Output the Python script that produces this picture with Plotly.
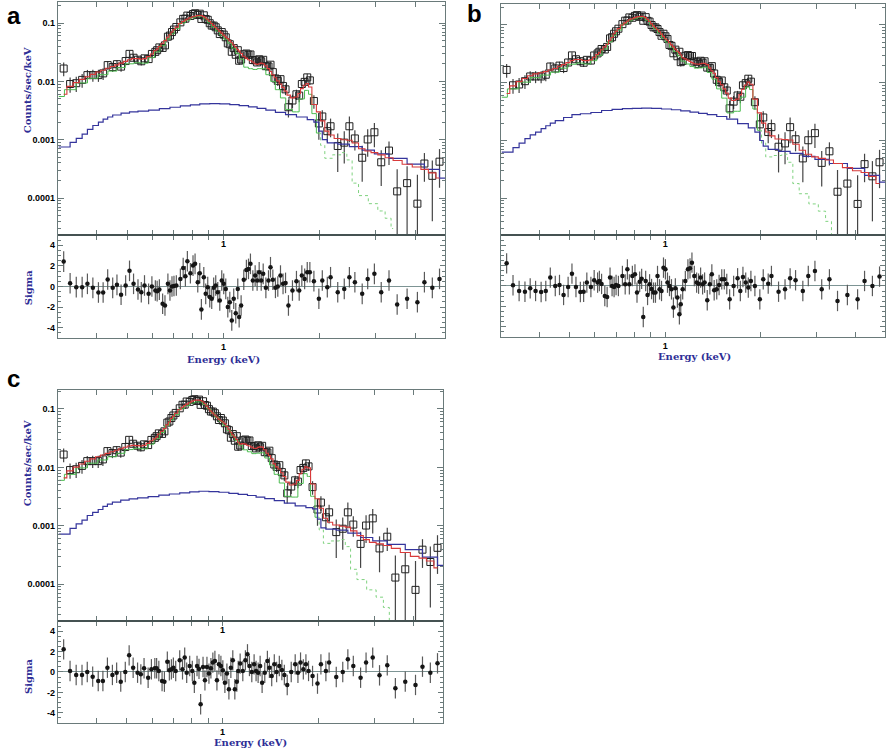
import plotly.graph_objects as go

# ---------------------------------------------------------------------------
# Spectral bins (keV) shared by all three fits
energy = [
    0.316, 0.331, 0.346, 0.361, 0.375, 0.390, 0.406, 0.420, 0.434, 0.450,
    0.464, 0.478, 0.494, 0.508, 0.523, 0.540, 0.553, 0.566, 0.583, 0.597,
    0.612, 0.620, 0.630, 0.645, 0.656, 0.670, 0.680, 0.690, 0.700, 0.712,
    0.733, 0.748, 0.760, 0.771, 0.788, 0.803, 0.815, 0.831, 0.843, 0.853,
    0.868, 0.880, 0.893, 0.906, 0.919, 0.932, 0.946, 0.960, 0.974, 0.988,
    1.002, 1.017, 1.032, 1.047, 1.062, 1.077, 1.093, 1.109, 1.120, 1.136,
    1.158, 1.180, 1.198, 1.215, 1.236, 1.257, 1.275, 1.294, 1.313, 1.332,
    1.358, 1.384, 1.404, 1.428, 1.455, 1.480, 1.509, 1.537, 1.565, 1.598,
    1.645, 1.693, 1.727, 1.760, 1.796, 1.830, 1.865, 1.920, 1.990, 2.040,
    2.115, 2.165, 2.280, 2.390, 2.480, 2.580, 2.720, 2.830, 2.970, 3.120,
    3.300, 3.500, 3.760, 4.050, 4.260, 4.510, 4.750,
]

# Observed count rate (counts/sec/keV) and 1-sigma errors
counts = [
    0.0166, 0.0090, 0.0093, 0.0106, 0.0128, 0.0128, 0.0128, 0.0137, 0.0190, 0.0176,
    0.0197, 0.0179, 0.0223, 0.0296, 0.0254, 0.0235, 0.0221, 0.0248, 0.0241, 0.0295,
    0.0320, 0.0342, 0.0382, 0.0374, 0.0414, 0.0583, 0.0610, 0.0700, 0.0773, 0.0856,
    0.1027, 0.1179, 0.1188, 0.1342, 0.1322, 0.1426, 0.1471, 0.1371, 0.1446, 0.1176,
    0.1356, 0.1170, 0.1136, 0.0992, 0.0904, 0.0902, 0.0846, 0.0749, 0.0647, 0.0700,
    0.0633, 0.0569, 0.0448, 0.0433, 0.0322, 0.0372, 0.0286, 0.0342, 0.0226, 0.0237,
    0.0291, 0.0300, 0.0286, 0.0289, 0.0232, 0.0230, 0.0211, 0.0239, 0.0221, 0.0234,
    0.0182, 0.0180, 0.0193, 0.0144, 0.0112, 0.0102, 0.0109, 0.0083, 0.0073, 0.0036,
    0.0047, 0.0060, 0.0057, 0.0090, 0.0098, 0.0117, 0.0104, 0.0046, 0.0019, 0.0025,
    0.0014, 0.0017, 0.00078, 0.00089, 0.0017, 0.00105, 0.00049, 0.00101, 0.00134, 0.00041,
    0.00065, 0.00013, 0.00018, 0.00008, 0.00039, 0.00024, 0.00042,
]
count_err = [
    0.0044, 0.0026, 0.0027, 0.0028, 0.0029, 0.0030, 0.0030, 0.0031, 0.0032, 0.0032,
    0.0033, 0.0033, 0.0034, 0.0040, 0.0036, 0.0035, 0.0034, 0.0034, 0.0034, 0.0036,
    0.0038, 0.0040, 0.0042, 0.0045, 0.0047, 0.0050, 0.0052, 0.0055, 0.0058, 0.0060,
    0.0064, 0.0066, 0.0068, 0.0070, 0.0071, 0.0072, 0.0073, 0.0074, 0.0074, 0.0074,
    0.0073, 0.0071, 0.0069, 0.0066, 0.0064, 0.0061, 0.0059, 0.0056, 0.0054, 0.0052,
    0.0050, 0.0048, 0.0046, 0.0044, 0.0042, 0.0040, 0.0038, 0.0036, 0.0035, 0.0034,
    0.0032, 0.0031, 0.0030, 0.0029, 0.0029, 0.0028, 0.0028, 0.0028, 0.0028, 0.0028,
    0.0027, 0.0025, 0.0024, 0.0022, 0.0020, 0.0019, 0.0018, 0.0016, 0.0015, 0.0012,
    0.0012, 0.0012, 0.0013, 0.0014, 0.0016, 0.0018, 0.0017, 0.0012, 0.0009, 0.0007,
    0.0005, 0.0006, 0.0005, 0.0005, 0.0008, 0.0004, 0.0003, 0.0005, 0.0006, 0.00025,
    0.00028, 0.00018, 0.00017, 0.00017, 0.00020, 0.00020, 0.00027,
]

# Total folded model for each of the three fits
model_a = [
    0.0060, 0.0082, 0.0095, 0.0108, 0.0120, 0.0132, 0.0145, 0.0155, 0.0168, 0.0180,
    0.0192, 0.0205, 0.0220, 0.0235, 0.0245, 0.0245, 0.0240, 0.0245, 0.0265, 0.0295,
    0.0335, 0.0360, 0.0395, 0.0450, 0.0500, 0.0570, 0.0630, 0.0700, 0.0770, 0.0850,
    0.0980, 0.1060, 0.1120, 0.1170, 0.1230, 0.1280, 0.1310, 0.1340, 0.1350, 0.1340,
    0.1290, 0.1220, 0.1140, 0.1060, 0.0980, 0.0910, 0.0840, 0.0780, 0.0720, 0.0670,
    0.0620, 0.0580, 0.0540, 0.0500, 0.0460, 0.0420, 0.0385, 0.0350, 0.0330, 0.0300,
    0.0270, 0.0250, 0.0235, 0.0225, 0.0215, 0.0200, 0.0195, 0.0200, 0.0205, 0.0200,
    0.0185, 0.0165, 0.0148, 0.0130, 0.0115, 0.0102, 0.0090, 0.0079, 0.0068, 0.0058,
    0.0052, 0.0054, 0.0062, 0.0075, 0.0086, 0.0092, 0.0080, 0.0040, 0.0030, 0.0021,
    0.0014, 0.0012, 0.00105, 0.0010, 0.00098, 0.00088, 0.00070, 0.00064, 0.00060, 0.00055,
    0.00049, 0.00044, 0.00038, 0.00034, 0.00031, 0.00027, 0.00022,
]
model_b = [
    0.0065, 0.0088, 0.0104, 0.0118, 0.0132, 0.0142, 0.0148, 0.0155, 0.0165, 0.0176,
    0.0192, 0.0205, 0.0222, 0.0240, 0.0252, 0.0252, 0.0242, 0.0240, 0.0248, 0.0275,
    0.0305, 0.0330, 0.0370, 0.0415, 0.0460, 0.0540, 0.0605, 0.0700, 0.0770, 0.0860,
    0.0990, 0.1080, 0.1150, 0.1220, 0.1270, 0.1330, 0.1370, 0.1390, 0.1400, 0.1390,
    0.1330, 0.1240, 0.1140, 0.1040, 0.0960, 0.0890, 0.0820, 0.0760, 0.0690, 0.0630,
    0.0575, 0.0540, 0.0490, 0.0450, 0.0415, 0.0380, 0.0350, 0.0330, 0.0300, 0.0270,
    0.0258, 0.0245, 0.0232, 0.0222, 0.0212, 0.0210, 0.0208, 0.0212, 0.0216, 0.0215,
    0.0205, 0.0180, 0.0160, 0.0145, 0.0122, 0.0104, 0.0092, 0.0078, 0.0066, 0.0054,
    0.0049, 0.0052, 0.0062, 0.0077, 0.0091, 0.0102, 0.0094, 0.0052, 0.0030, 0.0020,
    0.0014, 0.0012, 0.00106, 0.00104, 0.00102, 0.00086, 0.00068, 0.00058, 0.00052, 0.00049,
    0.00046, 0.00040, 0.00034, 0.00030, 0.00028, 0.00024, 0.00018,
]
model_c = [
    0.0066, 0.0087, 0.0101, 0.0114, 0.0127, 0.0140, 0.0152, 0.0163, 0.0174, 0.0185,
    0.0197, 0.0209, 0.0221, 0.0232, 0.0238, 0.0236, 0.0232, 0.0238, 0.0258, 0.0285,
    0.0308, 0.0330, 0.0372, 0.0415, 0.0460, 0.0535, 0.0600, 0.0685, 0.0755, 0.0845,
    0.0970, 0.1070, 0.1140, 0.1210, 0.1280, 0.1360, 0.1410, 0.1420, 0.1420, 0.1400,
    0.1330, 0.1230, 0.1120, 0.1010, 0.0920, 0.0850, 0.0790, 0.0730, 0.0670, 0.0630,
    0.0600, 0.0560, 0.0500, 0.0450, 0.0400, 0.0360, 0.0330, 0.0300, 0.0270, 0.0250,
    0.0255, 0.0250, 0.0240, 0.0232, 0.0222, 0.0212, 0.0210, 0.0220, 0.0225, 0.0222,
    0.0200, 0.0175, 0.0160, 0.0140, 0.0115, 0.0102, 0.0094, 0.0081, 0.0070, 0.0056,
    0.0050, 0.0052, 0.0060, 0.0078, 0.0093, 0.0102, 0.0098, 0.0052, 0.0029, 0.0020,
    0.00135, 0.00115, 0.00103, 0.00098, 0.00095, 0.00082, 0.00068, 0.00058, 0.00052, 0.00049,
    0.00046, 0.00041, 0.00035, 0.00030, 0.00028, 0.00025, 0.00019,
]

# Residuals, (data - model) / error
resid_a = [
    2.42, 0.32, -0.06, -0.06, 0.26, -0.13, -0.58, -0.58, 0.68, -0.13,
    0.16, -0.80, 0.10, 1.52, 0.26, -0.29, -0.55, 0.10, -0.71, 0.00,
    -0.39, -0.45, -0.30, -1.68, -1.84, 0.26, -0.39, 0.00, 0.05, 0.10,
    0.74, 1.80, 1.00, 2.45, 1.29, 2.03, 2.20, 0.42, 1.29, -2.22,
    0.90, -0.71, -0.06, -1.03, -1.19, -0.13, 0.10, -0.55, -1.35, 0.58,
    0.26, -0.23, -2.00, -1.52, -3.29, -1.19, -2.60, -0.23, -2.97, -1.84,
    0.65, 1.60, 1.71, 2.20, 0.58, 1.06, 0.58, 1.39, 0.58, 1.23,
    -0.13, 0.58, 1.87, 0.65, -0.13, 0.00, 1.06, 0.26, 0.35, -1.84,
    -0.39, 0.52, -0.39, 1.06, 0.74, 1.39, 1.39, 0.52, -1.19, 0.58,
    -0.06, 0.90, -0.55, -0.23, 0.90, 0.42, -0.71, 0.74, 1.23, -0.55,
    0.58, -1.74, -1.19, -1.52, 0.42, -0.13, 0.74,
]
resid_b = [
    2.22, 0.07, -0.49, -0.56, -0.23, -0.49, -0.59, -0.49, 0.82, 0.00,
    0.10, -0.88, -0.10, 1.21, -0.10, -0.59, -0.56, 0.33, -0.10, 0.56,
    0.33, 0.49, 0.20, -0.98, -1.08, 0.82, 0.00, -0.10, 0.10, 0.00,
    0.98, 0.16, 1.63, 0.16, 0.98, 1.14, -0.65, 0.42, 0.70, -3.04,
    0.49, -0.88, 0.16, -0.30, -0.65, -0.65, 0.98, -0.33, -0.49, 1.80,
    1.63, 0.33, 0.00, -0.33, -2.12, -0.23, -1.14, -2.78, -1.80, -0.33,
    0.49, 1.63, 1.73, 2.29, 0.98, 0.33, 0.23, 0.82, 0.16, 0.33,
    -1.40, 0.16, 1.14, -0.42, -0.33, 0.10, 0.65, 0.65, 0.20, -1.31,
    0.00, 0.75, -0.49, 0.88, 0.33, -0.16, 0.49, 0.00, -1.31, 0.65,
    0.23, 0.98, -0.56, -0.33, 0.75, 0.56, -0.49, 0.98, 1.47, -0.33,
    0.65, -1.47, -0.88, -1.31, 0.49, 0.00, 0.92,
]
resid_c = [
    2.22, 0.10, -0.29, -0.29, 0.00, -0.46, -0.88, -0.88, 0.42, -0.29,
    -0.07, -0.95, 0.00, 1.63, 0.42, -0.07, -0.23, 0.36, -0.56, 0.26,
    0.36, 0.36, 0.10, -0.88, -0.95, 1.01, 0.16, 0.26, 0.42, 0.10,
    1.14, 0.26, 1.41, -0.07, 0.59, 0.10, -1.05, 0.59, 0.30, -3.17,
    0.49, -0.82, 0.49, -0.16, 0.36, 0.92, 1.08, -0.82, 0.75, 0.59,
    0.16, -1.05, -0.16, -1.70, 0.42, 1.14, -1.70, -0.95, 0.10, 0.82,
    0.10, 1.14, 1.73, 0.59, 0.00, 0.75, 0.10, -0.07, 0.59, -1.05,
    -0.07, 1.08, 0.42, -0.39, 0.75, 0.00, 0.59, 0.20, -0.30, -1.27,
    0.00, 0.75, -0.07, 0.92, 0.26, 0.75, 0.10, -0.39, -1.14, 0.75,
    0.10, 0.92, -0.49, 0.00, 1.24, 0.59, -0.56, 0.92, 1.41, -0.33,
    0.65, -1.60, -0.95, -1.27, 0.52, -0.07, 0.85,
]

# Power-law / continuum component (blue)
energy_pl = [
    0.305, 0.316, 0.331, 0.346, 0.361, 0.375, 0.390, 0.406, 0.420, 0.434,
    0.450, 0.478, 0.508, 0.540, 0.583, 0.630, 0.680, 0.733, 0.788, 0.843,
    0.906, 0.974, 1.047, 1.120, 1.198, 1.275, 1.358, 1.455, 1.565, 1.693,
    1.830, 1.920, 1.990, 2.040, 2.115, 2.280, 2.480, 2.720, 2.970, 3.300,
    3.760, 4.260, 4.750, 4.950,
]
pl_a = [
    0.00075, 0.00075, 0.00090, 0.00105, 0.00125, 0.00150, 0.00175, 0.00200, 0.00225, 0.00245,
    0.00265, 0.00285, 0.00300, 0.00310, 0.00320, 0.00340, 0.00360, 0.00380, 0.00395, 0.00410,
    0.00415, 0.00410, 0.00400, 0.00385, 0.00365, 0.00345, 0.00320, 0.00295, 0.00270, 0.00245,
    0.00220, 0.00200, 0.00140, 0.00100, 0.00088, 0.00084, 0.00076, 0.00066, 0.00057, 0.00048,
    0.00038, 0.00031, 0.00022, 0.00022,
]
pl_b = [
    0.00063, 0.00063, 0.00075, 0.00090, 0.00108, 0.00125, 0.00140, 0.00160, 0.00180, 0.00200,
    0.00220, 0.00250, 0.00280, 0.00290, 0.00305, 0.00330, 0.00345, 0.00355, 0.00360, 0.00362,
    0.00360, 0.00350, 0.00340, 0.00325, 0.00310, 0.00295, 0.00280, 0.00260, 0.00235, 0.00195,
    0.00165, 0.00140, 0.00100, 0.00080, 0.00070, 0.00065, 0.00060, 0.00053, 0.00047, 0.00040,
    0.00033, 0.00025, 0.00019, 0.00019,
]
pl_c = [
    0.00072, 0.00072, 0.00090, 0.00108, 0.00125, 0.00150, 0.00170, 0.00190, 0.00215, 0.00235,
    0.00255, 0.00275, 0.00290, 0.00300, 0.00315, 0.00335, 0.00350, 0.00365, 0.00380, 0.00390,
    0.00385, 0.00375, 0.00360, 0.00345, 0.00330, 0.00310, 0.00292, 0.00270, 0.00245, 0.00220,
    0.00205, 0.00195, 0.00130, 0.00092, 0.00088, 0.00084, 0.00075, 0.00063, 0.00055, 0.00048,
    0.00039, 0.00029, 0.00021, 0.00021,
]

# Thermal plasma component (green)
energy_th = [
    0.305, 0.331, 0.361, 0.390, 0.420, 0.450, 0.478, 0.508, 0.540, 0.566,
    0.597, 0.620, 0.645, 0.670, 0.690, 0.712, 0.748, 0.771, 0.803, 0.831,
    0.853, 0.880, 0.906, 0.932, 0.960, 0.988, 1.017, 1.047, 1.077, 1.109,
    1.136, 1.180, 1.215, 1.257, 1.294, 1.332, 1.384, 1.428, 1.480, 1.537,
    1.598, 1.693, 1.760, 1.830, 1.865, 1.920, 1.990, 2.040, 2.115, 2.280,
    2.390, 2.480, 2.580, 2.720, 2.970, 3.120, 3.300, 3.400,
]
th_a = [
    0.0055, 0.0072, 0.0094, 0.0113, 0.0130, 0.0150, 0.0172, 0.0200, 0.0208, 0.0205,
    0.0255, 0.0320, 0.0410, 0.0530, 0.0650, 0.0800, 0.1000, 0.1120, 0.1230, 0.1300,
    0.1300, 0.1180, 0.1010, 0.0860, 0.0730, 0.0620, 0.0530, 0.0450, 0.0370, 0.0300,
    0.0240, 0.0175, 0.0165, 0.0160, 0.0165, 0.0165, 0.0130, 0.0100, 0.0072, 0.0052,
    0.0033, 0.0030, 0.0050, 0.0070, 0.0060, 0.0028, 0.0013, 0.00080, 0.00048, 0.00055,
    0.00060, 0.00045, 0.00018, 0.00011, 0.00008, 0.00006, 0.000045, 0.00003,
]
th_b = [
    0.0056, 0.0078, 0.0102, 0.0122, 0.0135, 0.0152, 0.0178, 0.0208, 0.0218, 0.0210,
    0.0240, 0.0295, 0.0380, 0.0505, 0.0660, 0.0810, 0.1030, 0.1170, 0.1270, 0.1340,
    0.1350, 0.1200, 0.0995, 0.0850, 0.0720, 0.0590, 0.0500, 0.0410, 0.0345, 0.0290,
    0.0235, 0.0210, 0.0190, 0.0178, 0.0180, 0.0185, 0.0150, 0.0115, 0.0078, 0.0054,
    0.0030, 0.0032, 0.0056, 0.0084, 0.0076, 0.0035, 0.0015, 0.0009, 0.00052, 0.00055,
    0.00058, 0.00042, 0.00018, 0.00012, 0.00008, 0.00006, 0.00004, 0.00002,
]
th_c = [
    0.0060, 0.0076, 0.0098, 0.0118, 0.0134, 0.0152, 0.0174, 0.0202, 0.0212, 0.0208,
    0.0250, 0.0310, 0.0395, 0.0520, 0.0650, 0.0800, 0.1010, 0.1140, 0.1260, 0.1320,
    0.1320, 0.1190, 0.1000, 0.0850, 0.0720, 0.0610, 0.0520, 0.0430, 0.0350, 0.0290,
    0.0240, 0.0200, 0.0185, 0.0172, 0.0175, 0.0178, 0.0145, 0.0110, 0.0076, 0.0054,
    0.0032, 0.0031, 0.0053, 0.0078, 0.0070, 0.0032, 0.0014, 0.00085, 0.00050, 0.00055,
    0.00058, 0.00044, 0.00018, 0.00012, 0.00008, 0.00006, 0.00004, 0.00002,
]
# index in energy_th where the thermal curve is drawn faint/dotted
TH_SPLIT = 46

# Axis ticks
x_ticks = [0.4, 0.5, 0.6, 0.7, 0.8, 0.9, 1, 2, 3, 4]
x_text = ["", "", "", "", "", "", "1", "", "", ""]
y_ticks = [1e-4, 1e-3, 1e-2, 1e-1]
y_text = ["0.0001", "0.001", "0.01", "0.1"]
y_minor = [m * 10.0 ** e for e in range(-5, 0) for m in range(2, 10)]
res_ticks = [-4, -2, 0, 2, 4]
res_text = ["-4", "-2", "0", "2", "4"]

# ---------------------------------------------------------------------------
FRAME = "#6a7a7a"
TITLE_BLUE = "#2e2e96"
TICKFONT = dict(family="Liberation Sans", size=9, color="black", weight="bold")
TITLEFONT = dict(family="DejaVu Serif", size=10, color=TITLE_BLUE, weight="bold")
XRANGE = [-0.518, 0.694]

panels = [
    dict(letter="a", model=model_a, pl=pl_a, th=th_a, res=resid_a,
         xdom=[0.0655, 0.5023], top=[0.6875, 0.9973], bot=[0.5505, 0.6875],
         yrange=[-4.634, -0.64], ylabels=True,
         letter_xy=(0.0158, 0.980), counts_y=0.880, sigma_y=0.618, energy_xy=(0.2528, 0.5213)),
    dict(letter="b", model=model_b, pl=pl_b, th=th_b, res=resid_b,
         xdom=[0.5655, 0.9989], top=[0.6875, 0.9947], bot=[0.5519, 0.6875],
         yrange=[-4.634, -0.64], ylabels=False,
         letter_xy=(0.536, 0.9827), counts_y=None, sigma_y=None, energy_xy=(0.7844, 0.5253)),
    dict(letter="c", model=model_c, pl=pl_c, th=th_c, res=resid_c,
         xdom=[0.0655, 0.5000], top=[0.1742, 0.4814], bot=[0.0386, 0.1742],
         yrange=[-4.63, -0.675], ylabels=True,
         letter_xy=(0.0147, 0.4973), counts_y=0.384, sigma_y=0.101, energy_xy=(0.2822, 0.012)),
]

fig = go.Figure()
layout = dict(
    width=886, height=752, margin=dict(l=0, r=0, t=0, b=0),
    paper_bgcolor="white", plot_bgcolor="white", showlegend=False,
)
shapes = []
annotations = []


def axis_name(n):
    return "" if n == 1 else str(n)


for i, p in enumerate(panels):
    nt, nr = 2 * i + 1, 2 * i + 2
    xt, yt = "x" + axis_name(nt), "y" + axis_name(nt)
    xr, yr = "x" + axis_name(nr), "y" + axis_name(nr)

    # --- spectrum panel
    fig.add_trace(go.Scatter(
        x=energy, y=counts, mode="markers", xaxis=xt, yaxis=yt,
        marker=dict(symbol="square-open", size=7, color="#202020", line=dict(width=1)),
        error_y=dict(type="data", array=count_err, color="#454545", thickness=1.2, width=0),
    ))
    fig.add_trace(go.Scatter(
        x=energy_th[:TH_SPLIT + 1], y=p["th"][:TH_SPLIT + 1], mode="lines",
        xaxis=xt, yaxis=yt, line=dict(color="#4cbc50", width=1, shape="hvh"),
    ))
    fig.add_trace(go.Scatter(
        x=energy_th[TH_SPLIT:], y=p["th"][TH_SPLIT:], mode="lines",
        xaxis=xt, yaxis=yt, line=dict(color="#7fd27f", width=1, shape="hvh", dash="dot"),
    ))
    fig.add_trace(go.Scatter(
        x=energy_pl, y=p["pl"], mode="lines", xaxis=xt, yaxis=yt,
        line=dict(color="#34349c", width=1.2, shape="hv"),
    ))
    fig.add_trace(go.Scatter(
        x=energy, y=p["model"], mode="lines", xaxis=xt, yaxis=yt,
        line=dict(color="#d83a3a", width=1.1, shape="hvh"),
    ))

    # --- residual panel
    fig.add_trace(go.Scatter(
        x=energy, y=p["res"], mode="markers", xaxis=xr, yaxis=yr,
        marker=dict(symbol="circle", size=4.5, color="#151515"),
        error_y=dict(type="constant", value=1, color="#5a5a5a", thickness=1.2, width=0),
        error_x=dict(type="percent", value=1.2, color="#5a5a5a", thickness=1, width=0),
    ))

    common_x = dict(
        type="log", range=XRANGE, domain=p["xdom"], tickmode="array",
        tickvals=x_ticks, ticktext=x_text, ticks="inside", ticklen=5,
        tickcolor=FRAME, tickwidth=1, showline=True, linecolor=FRAME, linewidth=1,
        mirror="allticks", showgrid=False, zeroline=False, tickfont=TICKFONT,
    )
    layout["xaxis" + axis_name(nt)] = dict(common_x, anchor=yt)
    layout["xaxis" + axis_name(nr)] = dict(common_x, anchor=yr)

    layout["yaxis" + axis_name(nt)] = dict(
        type="log", range=p["yrange"], domain=p["top"], anchor=xt,
        tickmode="array", tickvals=y_ticks, ticktext=y_text,
        showticklabels=p["ylabels"], ticks="inside", ticklen=6,
        tickcolor=FRAME, tickwidth=1, showline=True, linecolor=FRAME, linewidth=1.2,
        mirror="allticks", showgrid=False, zeroline=False, tickfont=TICKFONT,
        minor=dict(tickmode="array", tickvals=y_minor, ticks="inside", ticklen=3,
                   tickcolor=FRAME, showgrid=False),
    )
    layout["yaxis" + axis_name(nr)] = dict(
        range=[-5, 5], domain=p["bot"], anchor=xr,
        tickmode="array", tickvals=res_ticks, ticktext=res_text,
        showticklabels=p["ylabels"], ticks="inside", ticklen=5,
        tickcolor=FRAME, tickwidth=1, showline=True, linecolor=FRAME, linewidth=1.2,
        mirror="allticks", showgrid=False, tickfont=TICKFONT,
        zeroline=True, zerolinecolor="#7d9494", zerolinewidth=1,
        minor=dict(dtick=0.5, ticks="inside", ticklen=3, tickcolor=FRAME, showgrid=False),
    )

    # rule separating spectrum and residuals
    shapes.append(dict(type="line", xref="paper", yref="paper",
                       x0=p["xdom"][0], x1=p["xdom"][1], y0=p["top"][0], y1=p["top"][0],
                       line=dict(color="#3a4646", width=1.5)))

    lx, ly = p["letter_xy"]
    annotations.append(dict(text=p["letter"], x=lx, y=ly, xref="paper", yref="paper",
                            showarrow=False, xanchor="center", yanchor="middle",
                            font=dict(family="Liberation Sans", size=24, color="black",
                                      weight="bold")))
    ex, ey = p["energy_xy"]
    annotations.append(dict(text="Energy (keV)", x=ex, y=ey, xref="paper", yref="paper",
                            showarrow=False, xanchor="center", yanchor="middle",
                            font=TITLEFONT))
    if p["counts_y"] is not None:
        annotations.append(dict(text="Counts/sec/keV", x=0.0305, y=p["counts_y"],
                                xref="paper", yref="paper", showarrow=False, textangle=-90,
                                xanchor="center", yanchor="middle", font=TITLEFONT))
        annotations.append(dict(text="Sigma", x=0.0316, y=p["sigma_y"],
                                xref="paper", yref="paper", showarrow=False, textangle=-90,
                                xanchor="center", yanchor="middle", font=TITLEFONT))

layout["shapes"] = shapes
layout["annotations"] = annotations
fig.update_layout(**layout)
fig.write_html("out.html")
